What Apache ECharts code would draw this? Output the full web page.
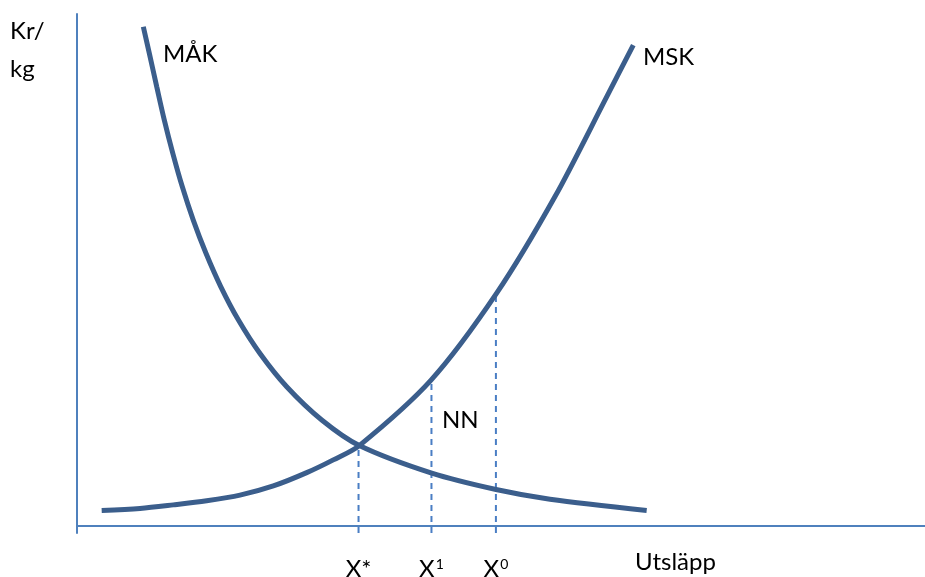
<!DOCTYPE html>
<html>
<head>
<meta charset="utf-8">
<script src="https://cdn.jsdelivr.net/npm/echarts@6/dist/echarts.min.js"></script>
<style>
  html, body { margin: 0; padding: 0; background: #fff; }
  #chart { width: 925px; height: 577px; }
</style>
</head>
<body>
<div id="chart"></div>
<script>
// curve points, [utsläpp, kr/kg] in chart units (x 0-100, y 0-100)
const makPoints = [
    [7.82, 97.5], [8.53, 92.3], [9.40, 85.8], [10.29, 79.3], [11.29, 72.8],
    [12.42, 66.2], [13.71, 59.7], [15.21, 53.2], [16.95, 46.7], [19.02, 40.2],
    [21.58, 33.6], [24.73, 27.1], [28.86, 20.6], [33.29, 15.6], [41.83, 10.2],
    [49.41, 7.0], [55.78, 5.1], [67.18, 2.9]
];
const mskPoints = [
    [2.91, 2.9], [7.43, 3.3], [11.36, 4.0], [15.29, 4.8], [19.22, 5.9],
    [23.15, 7.7], [27.09, 10.3], [30.22, 12.8], [33.29, 15.6],
    [41.75, 28.4], [49.49, 45.4], [56.37, 64.3], [62.46, 83.8], [65.60, 93.9]
];
// dashed drop lines: x positions, heights and labels
const dropX = [33.2, 41.8, 49.4];
const dropTop = [15.6, 28.8, 45.0];
const dropLabels = ['{b|X*}', '{b|X}{s|1}', '{b|X}{s|0}'];

const curveColor = '#3b5e8c';
const axisColor = '#4f81bd';
const font = 'Lato, "Open Sans", sans-serif';

const chart = echarts.init(document.getElementById('chart'));

const series = [
    {
        name: 'MÅK',
        type: 'line',
        data: makPoints,
        smooth: 0.3,
        showSymbol: false,
        lineStyle: { color: curveColor, width: 5 },
        z: 3
    },
    {
        name: 'MSK',
        type: 'line',
        data: mskPoints,
        smooth: 0.3,
        showSymbol: false,
        lineStyle: { color: curveColor, width: 5 },
        z: 3
    }
];
dropX.forEach(function (x, i) {
    series.push({
        type: 'line',
        data: [[x, -1.5], [x, dropTop[i]]],
        showSymbol: false,
        lineStyle: { color: '#4a7ec4', width: 2, type: [6, 5] },
        z: 2
    });
});

const option = {
    animation: false,
    grid: { left: 77, right: 0, top: 14, bottom: 44, outerBoundsMode: 'none' },
    xAxis: {
        type: 'value',
        min: 0,
        max: 100,
        splitLine: { show: false },
        axisTick: { show: false },
        axisLine: { show: true, onZero: true, lineStyle: { color: axisColor, width: 2 } },
        axisLabel: {
            customValues: dropX,
            margin: 24,
            formatter: function (value) {
                return dropLabels[dropX.indexOf(value)] || '';
            },
            rich: {
                b: { fontFamily: font, fontSize: 24, color: '#000' },
                s: { fontFamily: font, fontSize: 14, color: '#000', verticalAlign: 'top', padding: [0, 0, 8, 1] }
            }
        }
    },
    yAxis: {
        type: 'value',
        min: -1.5,
        max: 100,
        splitLine: { show: false },
        axisTick: { show: false },
        axisLabel: { show: false },
        axisLine: { show: true, onZero: true, lineStyle: { color: axisColor, width: 2 } }
    },
    graphic: [
        { type: 'text', left: 10, top: 19, style: { text: 'Kr/', font: '24px ' + font, fill: '#000' } },
        { type: 'text', left: 10, top: 57, style: { text: 'kg', font: '24px ' + font, fill: '#000' } },
        { type: 'text', left: 163, top: 42, style: { text: 'MÅK', font: '24px ' + font, fill: '#000' } },
        { type: 'text', left: 643, top: 45, style: { text: 'MSK', font: '24px ' + font, fill: '#000' } },
        { type: 'text', left: 442, top: 408, style: { text: 'NN', font: '24px ' + font, fill: '#000' } },
        { type: 'text', left: 635, top: 550, style: { text: 'Utsläpp', font: '24px ' + font, fill: '#000' } }
    ],
    series: series
};
chart.setOption(option);
</script>
</body>
</html>
